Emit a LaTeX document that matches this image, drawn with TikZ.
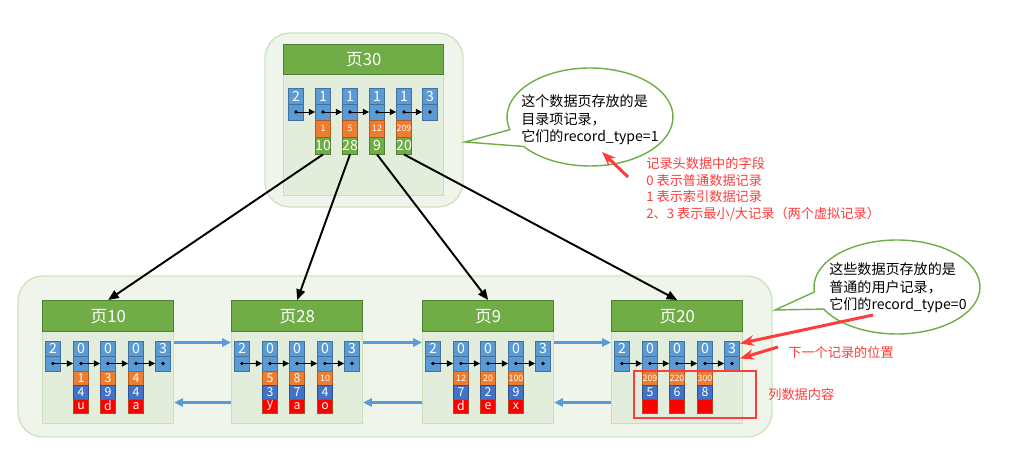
\documentclass[tikz,border=0pt]{standalone}
\usepackage{fontspec}
\setmainfont{Noto Sans CJK SC}
\usetikzlibrary{arrows.meta,calc}

\definecolor{cellblue}{HTML}{5B9BD5}
\definecolor{cellblueD}{HTML}{41719C}
\definecolor{keyorange}{HTML}{ED7D31}
\definecolor{keyorangeD}{HTML}{AE5A21}
\definecolor{ptrgreen}{HTML}{70AD47}
\definecolor{ptrgreenD}{HTML}{507E32}
\definecolor{valblue}{HTML}{4472C4}
\definecolor{valblueD}{HTML}{2F528F}
\definecolor{colred}{HTML}{FF0000}
\definecolor{colredD}{HTML}{B04A1C}
\definecolor{pagefill}{HTML}{E3EDDB}
\definecolor{pageline}{HTML}{C9DFBA}
\definecolor{groupfill}{HTML}{F0F5EC}
\definecolor{groupline}{HTML}{CFE3C2}
\definecolor{linkblue}{HTML}{5B9BD5}
\definecolor{notered}{HTML}{FF3B3B}

\newcommand{\cellfont}{\fontsize{8}{8}\selectfont}
\newcommand{\rowfont}{\fontsize{7}{7}\selectfont}
\newcommand{\sm}{\fontsize{5}{5}\selectfont}

\tikzset{
  cell/.style={draw, line width=0.5pt, inner sep=0pt, minimum width=0.3cm, minimum height=#1, text=white, font=\cellfont},
  hdrcell/.style={cell=#1, fill=cellblue, draw=cellblueD},
  keycell/.style={cell=#1, fill=keyorange, draw=keyorangeD},
  ptrcell/.style={cell=#1, fill=ptrgreen, draw=ptrgreenD},
  valcell/.style={cell=#1, fill=valblue, draw=valblueD, font=\rowfont},
  colcell/.style={cell=#1, fill=colred, draw=colredD, font=\rowfont},
  page/.style={fill=pagefill, draw=pageline, line width=0.6pt, anchor=north west, inner sep=0pt},
  head/.style={fill=ptrgreen, draw=ptrgreenD, line width=0.8pt, anchor=north west, inner sep=0pt, text=white, font=\fontsize{9.5}{10}\selectfont},
  group/.style={fill=groupfill, draw=groupline, line width=0.8pt, rounded corners=0.5cm},
  bubble/.style={fill=white, draw=ptrgreen, line width=0.8pt},
  bubbletext/.style={anchor=west, align=left, inner sep=0pt, font=\fontsize{8}{9.9}\selectfont},
  note/.style={inner sep=0pt, text=notered, align=left, font=\fontsize{7.5}{9.5}\selectfont},
  nextptr/.style={-{Triangle[length=3.5pt,width=3.5pt]}, line width=0.5pt},
  treeptr/.style={-{Triangle[length=6pt,width=5pt]}, line width=1.1pt},
  link/.style={-{Triangle[length=5pt,width=4.5pt]}, draw=linkblue, line width=1.3pt},
  notearrow/.style={-{Stealth[length=8pt,width=6pt]}, draw=notered, line width=1.7pt},
  redbox/.style={draw=notered, line width=0.6pt}
}

\begin{document}
\begin{tikzpicture}[x=0.02cm, y=-0.02cm]
  \useasboundingbox (0,0) rectangle (1024,455);

  % the two groups of pages
  \draw[group] (265,33) rectangle (463,207);
  \draw[group] (18,276) rectangle (772,437);

  % directory page
  \node[page, minimum width=3.2cm, minimum height=3.02cm] (p30) at (283,44) {};
  \node[head, minimum width=3.2cm, minimum height=0.6cm] (p30-h) at (p30.north west) {页30};
  \foreach \c/\x/\t in {0/296/2, 1/323/1, 2/350/1, 3/377/1, 4/404/1, 5/430/3} {
    \node[hdrcell=0.32cm] (p30-t\c) at (\x,96) {\t};
    \node[hdrcell=0.32cm] (p30-n\c) at (\x,112) {};
    \fill (p30-n\c.center) circle (1.1pt);
  }
  \foreach \c/\x/\k/\p in {1/323/1/10, 2/350/5/28, 3/377/12/9, 4/404/209/20} {
    \node[keycell=0.34cm, font=\sm] (p30-k\c) at (\x,128.5) {\k};
    \node[ptrcell=0.34cm] (p30-p\c) at (\x,145.5) {\p};
  }
  \foreach \c [count=\d] in {0,...,4}
    \draw[nextptr] (p30-n\c.center) -- (p30-n\d.west);

  % user record pages
  \foreach \pg/\px/\ka/\kb/\kc/\va/\vb/\vc/\ra/\rb/\rc in {
      10/42/1/3/4/4/9/4/u/d/a,
      28/231/5/8/{\sm 10}/3/7/4/y/a/o,
      9/422/{\sm 12}/{\sm 20}/{\sm 100}/7/2/9/d/e/x,
      20/611/{\sm 209}/{\sm 220}/{\sm 300}/5/6/8/{}/{}/{}} {
    \node[page, minimum width=2.62cm, minimum height=2.46cm] (p\pg) at (\px,300) {};
    \node[head, minimum width=2.62cm, minimum height=0.62cm] (p\pg-h) at (p\pg.north west) {页\pg};
    \foreach \c/\dx/\t in {0/11/2, 1/39/0, 2/66/0, 3/94/0, 4/121/3} {
      \node[hdrcell=0.3cm] (p\pg-t\c) at (\px+\dx,348.5) {\t};
      \node[hdrcell=0.3cm] (p\pg-n\c) at (\px+\dx,363.5) {};
      \fill (p\pg-n\c.center) circle (1.1pt);
    }
    \foreach \c/\dx/\k/\v/\r in {1/39/\ka/\va/\ra, 2/66/\kb/\vb/\rb, 3/94/\kc/\vc/\rc} {
      \node[keycell=0.28cm, font=\rowfont] (p\pg-k\c) at (\px+\dx,378) {\k};
      \node[valcell=0.28cm] (p\pg-v\c) at (\px+\dx,392) {\v};
      \node[colcell=0.28cm] (p\pg-r\c) at (\px+\dx,406) {\r};
    }
    \foreach \c [count=\d] in {0,...,3}
      \draw[nextptr] (p\pg-n\c.center) -- (p\pg-n\d.west);
  }

  % page links
  \foreach \a/\b in {10/28, 28/9, 9/20} {
    \draw[link] ([yshift=0.39cm]p\a.east) -- ([yshift=0.39cm]p\b.west);
    \draw[link] ([yshift=-0.81cm]p\b.west) -- ([yshift=-0.81cm]p\a.east);
  }

  % directory entries point to pages
  \foreach \c/\pg in {1/10, 2/28, 3/9, 4/20}
    \draw[treeptr] (p30-p\c.south) -- (p\pg-h.north);

  % callouts
  \coordinate (b1) at (590,117);
  \draw[bubble] ($(b1)+(195:1.66cm and 0.98cm)$) -- (465,142)
    -- ($(b1)+(217:1.66cm and 0.98cm)$)
    arc[start angle=217, end angle=555, x radius=1.66cm, y radius=0.98cm] -- cycle;
  \node[bubbletext] (b1-text) at (521,120) {这个数据页存放的是\\目录项记录，\\它们的record\_type=1};

  \coordinate (b2) at (897,287);
  \draw[bubble] ($(b2)+(186:1.66cm and 0.94cm)$) -- (775,310)
    -- ($(b2)+(208:1.66cm and 0.94cm)$)
    arc[start angle=208, end angle=546, x radius=1.66cm, y radius=0.94cm] -- cycle;
  \node[bubbletext] (b2-text) at (829,288) {这些数据页存放的是\\普通的用户记录，\\它们的record\_type=0};

  % notes
  \node[note, anchor=north west] (typenote) at (646,157)
    {记录头数据中的字段\\0 表示普通数据记录\\1 表示索引数据记录\\2、3 表示最小/大记录（两个虚拟记录）};
  \coordinate (na1) at (628,177);
  \coordinate (nb1) at (602,152);
  \draw[notearrow] (na1) -- (nb1);

  \node[note, anchor=west] (nextnote) at (788,352) {下一个记录的位置};
  \coordinate (na2) at (873,315);
  \coordinate (na3) at (778,347);
  \draw[notearrow] (na2) -- ([yshift=0.1cm]p20-t4.east);
  \draw[notearrow] (na3) -- ([yshift=0.1cm]p20-n4.east);

  \draw[redbox] (634,371) rectangle (756,418);
  \node[note, anchor=west] (colnote) at (768,394) {列数据内容};
\end{tikzpicture}
\end{document}
